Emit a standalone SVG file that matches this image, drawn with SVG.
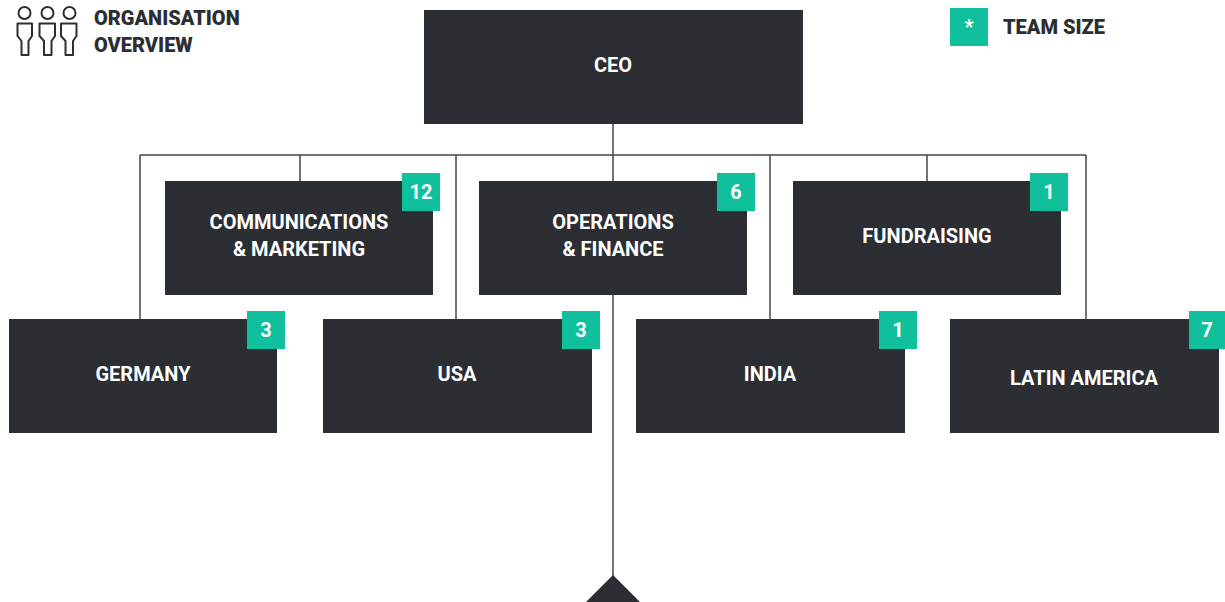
<svg xmlns="http://www.w3.org/2000/svg" width="1225" height="602" viewBox="0 0 1225 602">
<style>
.box{fill:#2b2e33}
.badge{fill:#10c09c}
.lbl{font-family:Roboto,"Liberation Sans",sans-serif;font-weight:700;font-size:20px;fill:#ffffff;text-anchor:middle}
.num{font-family:Roboto,"Liberation Sans",sans-serif;font-weight:700;font-size:20px;fill:#ffffff;text-anchor:middle}
.hdr{font-family:Roboto,"Liberation Sans",sans-serif;font-weight:900;font-size:20px;fill:#2b2e33}
.con{fill:none;stroke:#444;stroke-width:1.5}
.icon{fill:none;stroke:#2b2e33;stroke-width:2;stroke-linejoin:round}
</style>
<rect width="1225" height="602" fill="#ffffff"/>
<g id="header">
  <g class="icon">
    <circle cx="24.5" cy="13" r="6"/>
    <path d="M17.5 23.5 H32 V36 L28.5 41 V55 H21.5 V41 L17.5 36 Z"/>
    <circle cx="47.5" cy="13" r="6"/>
    <path d="M39.5 23.5 H55 V36 L51.5 41 V55 H44 V41 L39.5 36 Z"/>
    <circle cx="69.5" cy="13" r="6"/>
    <path d="M61 23.5 H76.5 V36 L73 41 V55 H65.5 V41 L61 36 Z"/>
  </g>
  <text class="hdr" x="94" y="25">ORGANISATION</text>
  <text class="hdr" x="94" y="52">OVERVIEW</text>
</g>
<g id="legend">
  <rect class="badge" x="950" y="8" width="38" height="38"/>
  <text class="num" x="969" y="34">*</text>
  <text class="hdr" x="1003" y="34">TEAM SIZE</text>
</g>
<g id="connectors" class="con">
  <path d="M613 124 V181"/>
  <path d="M140 155 H1086"/>
  <path d="M140 155 V319"/>
  <path d="M300 155 V181"/>
  <path d="M456 155 V319"/>
  <path d="M770 155 V319"/>
  <path d="M927 155 V181"/>
  <path d="M1086 155 V319"/>
  <path d="M613 295 V578"/>
  <polygon points="613,575 586,602 640,602" fill="#2b2e33" stroke="none"/>
</g>
<g id="ceo">
  <rect class="box" x="424" y="10" width="379" height="114"/>
  <text class="lbl" x="613" y="72">CEO</text>
</g>
<g id="comms">
  <rect class="box" x="165" y="181" width="268" height="114"/>
  <text class="lbl" x="299" y="229">COMMUNICATIONS</text>
  <text class="lbl" x="299" y="256">&amp; MARKETING</text>
  <rect class="badge" x="402" y="173" width="38" height="38"/>
  <text class="num" x="421" y="199">12</text>
</g>
<g id="operations">
  <rect class="box" x="479" y="181" width="268" height="114"/>
  <text class="lbl" x="613" y="229">OPERATIONS</text>
  <text class="lbl" x="613" y="256">&amp; FINANCE</text>
  <rect class="badge" x="717" y="173" width="38" height="38"/>
  <text class="num" x="736" y="199">6</text>
</g>
<g id="fundraising">
  <rect class="box" x="793" y="181" width="268" height="114"/>
  <text class="lbl" x="927" y="243">FUNDRAISING</text>
  <rect class="badge" x="1030" y="173" width="38" height="38"/>
  <text class="num" x="1049" y="199">1</text>
</g>
<g id="germany">
  <rect class="box" x="9" y="319" width="268" height="114"/>
  <text class="lbl" x="143" y="381">GERMANY</text>
  <rect class="badge" x="247" y="311" width="38" height="38"/>
  <text class="num" x="266" y="337">3</text>
</g>
<g id="usa">
  <rect class="box" x="323" y="319" width="269" height="114"/>
  <text class="lbl" x="457" y="381">USA</text>
  <rect class="badge" x="562" y="311" width="38" height="38"/>
  <text class="num" x="581" y="337">3</text>
</g>
<g id="india">
  <rect class="box" x="636" y="319" width="269" height="114"/>
  <text class="lbl" x="770" y="381">INDIA</text>
  <rect class="badge" x="879" y="311" width="38" height="38"/>
  <text class="num" x="898" y="337">1</text>
</g>
<g id="latin-america">
  <rect class="box" x="950" y="319" width="269" height="114"/>
  <text class="lbl" x="1084" y="385">LATIN AMERICA</text>
  <rect class="badge" x="1189" y="311" width="38" height="38"/>
  <text class="num" x="1207" y="337">7</text>
</g>
</svg>
